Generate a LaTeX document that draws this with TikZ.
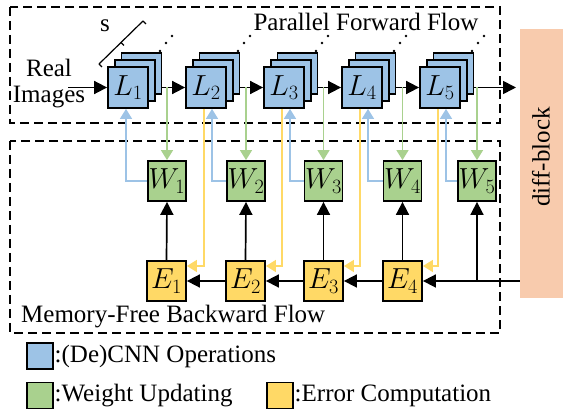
\RequirePackage{fix-cm}
\documentclass[tikz,border=0pt]{standalone}
\usepackage{fontspec}
\setmainfont{Liberation Serif}
\usetikzlibrary{arrows.meta,calc}
\definecolor{cblue}{HTML}{9DC3E6}
\definecolor{cgreen}{HTML}{A9D18E}
\definecolor{cyellow}{HTML}{FFD966}
\definecolor{corange}{HTML}{F8CBAD}
\begin{document}
\begin{tikzpicture}[x=1pt,y=-1pt,
  txt/.style={font=\fontsize{25}{27}\selectfont, inner sep=0pt},
  lbox/.style={draw=black, line width=1.8pt, fill=cblue, minimum width=40pt, minimum height=41pt, inner sep=0pt, font=\fontsize{29}{32}\selectfont},
  wbox/.style={draw=black, line width=1.8pt, fill=cgreen, minimum width=38pt, minimum height=40pt, inner sep=0pt, font=\fontsize{29}{32}\selectfont},
  ebox/.style={draw=black, line width=1.8pt, fill=cyellow, minimum width=39pt, minimum height=40pt, inner sep=0pt, font=\fontsize{29}{32}\selectfont},
  legbox/.style={draw=black, line width=1.8pt, minimum width=26pt, minimum height=26pt, inner sep=0pt},
  region/.style={draw=black, line width=1.6pt, dash pattern=on 9pt off 5pt},
  karrow/.style={draw=black, line width=1.7pt, -{Triangle[length=13pt,width=13pt]}},
  garrow/.style={draw=cgreen, line width=1.5pt, -{Triangle[length=10pt,width=12pt]}},
  barrow/.style={draw=cblue, line width=1.5pt, -{Triangle[length=10pt,width=12pt]}},
  yarrow/.style={draw=cyellow, line width=1.5pt, -{Triangle[length=10pt,width=12pt]}},
  dotmark/.style={fill=black, circle, inner sep=0pt, minimum size=2.6pt}
]
\useasboundingbox (0,0) rectangle (563,414);

% regions
\draw[region] (10,7) rectangle (500,123);
\draw[region] (10,141) rectangle (500,333);
\node[txt] (ptitle) at (366,22) {Parallel Forward Flow};
\node[txt, anchor=west] (btitle) at (21,317) {Memory-Free Backward Flow};

% diff-block
\node[fill=corange, minimum width=43pt, minimum height=269pt, inner sep=0pt] (diff) at (541.5,163.5) {};
\node[txt, rotate=90] (difftxt) at (541,157) {diff-block};

% L stacks
\foreach \k/\x in {1/128,2/206,3/284,4/362,5/440}{
  \node[lbox] (L\k c) at (\x+13.5,73.5) {};
  \node[lbox] (L\k b) at (\x+6.7,80.5) {};
  \node[lbox] (L\k) at (\x,87.5) {$L_{\k}$};
  \node[dotmark] (d\k a) at (\x+32,51) {};
  \node[dotmark] (d\k b) at (\x+38,43) {};
  \node[dotmark] (d\k c) at (\x+44,36) {};
}

% s bracket
\coordinate (sA) at (99,64);
\coordinate (sB) at (143,21);
\coordinate (sM) at (121,42.5);
\draw[line width=1.2pt] (sA) -- (sB);
\draw[line width=1.2pt] (sA) -- ++(3,3);
\draw[line width=1.2pt] (sB) -- ++(3,3);
\draw[line width=1.2pt] (sM) -- ++(3,3);
\node[txt] (slabel) at (105,26) {s};

% input
\node[txt, align=center] (real) at (49,84) {Real\\[-1pt]Images};
\coordinate (rin) at (68,87.5);
\draw[karrow] (rin) -- (L1.west);

% forward arrows
\draw[karrow] (L1c.east |- L1.center) -- (L2.west);
\draw[karrow] (L2c.east |- L2.center) -- (L3.west);
\draw[karrow] (L3c.east |- L3.center) -- (L4.west);
\draw[karrow] (L4c.east |- L4.center) -- (L5.west);
\coordinate (fout) at (516,87.5);
\draw[karrow] (L5c.east |- L5.center) -- (fout);

% W and E
\node[wbox] (W1) at (167,181) {$W_1$};
\node[wbox] (W2) at (246,181) {$W_2$};
\node[wbox] (W3) at (323.5,181) {$W_3$};
\node[wbox] (W4) at (402.5,181) {$W_4$};
\node[wbox] (W5) at (477,181) {$W_5$};
\node[ebox] (E1) at (166.5,281) {$E_1$};
\node[ebox] (E2) at (245.5,281) {$E_2$};
\node[ebox] (E3) at (323.5,281) {$E_3$};
\node[ebox] (E4) at (402.5,281) {$E_4$};

% green
\foreach \k in {1,...,5}{
  \draw[garrow] (W\k |- L\k.center) -- (W\k.north);
}
% blue
\draw[barrow] (W1.west) -| ($(L1.south)+(-2,0)$);
\foreach \k in {2,...,5}{
  \draw[barrow] (W\k.west) -| ($(L\k.south)+(6,0)$);
}
% yellow
\draw[yarrow] ($(L2.south)+(-2,0)$) |- ($(E1.east)+(0,-15)$);
\draw[yarrow] ($(L3.south)+(-2,0)$) |- ($(E2.east)+(0,-15)$);
\draw[yarrow] ($(L4.south)+(-2,0)$) |- ($(E3.east)+(0,-15)$);
\draw[yarrow] ($(L5.south)+(-2,0)$) |- ($(E4.east)+(0,-15)$);

% black backward
\foreach \k in {1,...,4}{
  \draw[karrow] (E\k.north) -- (W\k.south);
}
\draw[karrow] (E2.west) -- (E1.east);
\draw[karrow] (E3.west) -- (E2.east);
\draw[karrow] (E4.west) -- (E3.east);
\draw[karrow] (diff.west |- E4.east) -- (E4.east);
\draw[karrow] (W5 |- E4.east) -- (W5.south);

% legend
\node[legbox, fill=cblue] (lg1) at (40,356) {};
\node[txt, anchor=west] (lt1) at (54.5,356) {:(De)CNN Operations};
\node[legbox, fill=cgreen] (lg2) at (40,395.5) {};
\node[txt, anchor=west] (lt2) at (54.5,395.5) {:Weight Updating};
\node[legbox, fill=cyellow] (lg3) at (280,395.5) {};
\node[txt, anchor=west] (lt3) at (294.5,395.5) {:Error Computation};
\end{tikzpicture}
\end{document}
